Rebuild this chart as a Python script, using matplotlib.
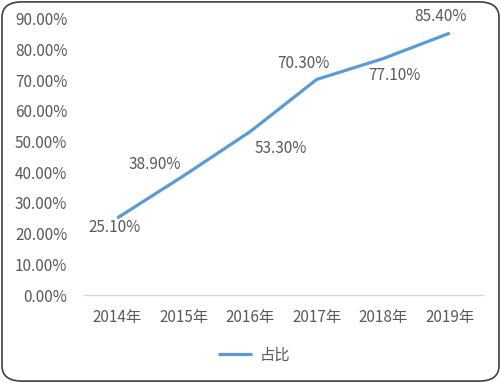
import matplotlib.pyplot as plt
from matplotlib.patches import FancyBboxPatch
from matplotlib.ticker import FuncFormatter

plt.rcParams['font.family'] = ['Noto Sans CJK SC', 'DejaVu Sans']

# datos
years = ['2014年', '2015年', '2016年', '2017年', '2018年', '2019年']
share = [25.1, 38.9, 53.3, 70.3, 77.1, 85.4]
# desplazamiento de las etiquetas (px)
label_dx = [-3, -29, 31, -13, 11, -9]
label_dy = [-9, 11, -17, 16, -17, 17]

gray = '#595959'
blue = '#5B9BD5'

fig = plt.figure(figsize=(5.02, 3.83), dpi=100)
ax = fig.add_axes([84 / 502, 1 - 295 / 383, 399 / 502, 276 / 383])

x = list(range(len(years)))
ax.plot(x, share, color=blue, linewidth=2.3, solid_capstyle='butt', label='占比')

for i, v in enumerate(share):
    ax.annotate(f'{v:.2f}%', (i, v), xytext=(label_dx[i] * 0.72, label_dy[i] * 0.72),
                textcoords='offset points', ha='center', va='center',
                fontsize=11, color=gray)

ax.set_xlim(-0.5, len(years) - 0.5)
ax.set_ylim(0, 90)
ax.set_yticks(range(0, 91, 10))
ax.yaxis.set_major_formatter(FuncFormatter(lambda v, p: f'{v:.2f}%'))
ax.set_xticks(x)
ax.set_xticklabels(years)
ax.tick_params(axis='both', length=0, labelsize=11, colors=gray)
ax.tick_params(axis='y', pad=12)
ax.tick_params(axis='x', pad=10)

for s in ['top', 'right', 'left']:
    ax.spines[s].set_visible(False)
ax.spines['bottom'].set_color('#D9D9D9')
ax.spines['bottom'].set_linewidth(1)

leg = fig.legend(loc='center', bbox_to_anchor=(254 / 502, 1 - 355 / 383), frameon=False,
                 fontsize=11, handlelength=2.2, handletextpad=0.5)
for t in leg.get_texts():
    t.set_color(gray)

# borde redondeado
border = FancyBboxPatch((0.004, 0.005), 0.99, 0.99, boxstyle='round,pad=0,rounding_size=0.04',
                        transform=fig.transFigure, fill=False, edgecolor='#404040', linewidth=1.2)
fig.patches.append(border)

fig.savefig('out.png', dpi=100)
